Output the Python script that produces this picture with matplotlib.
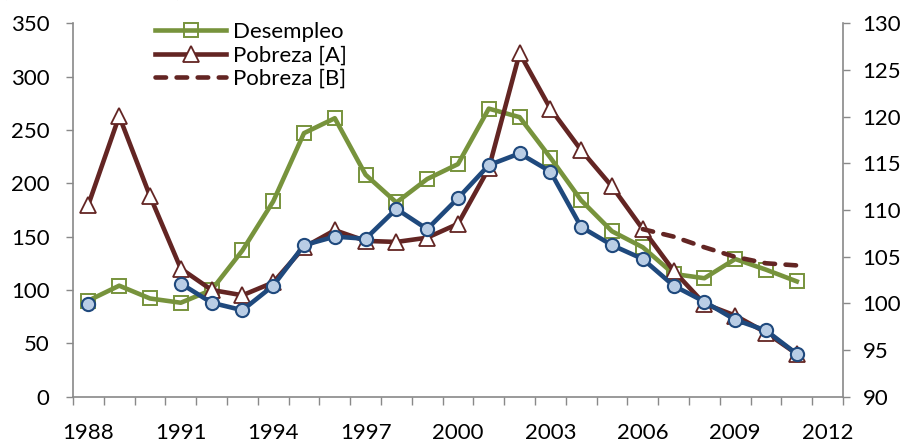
import numpy as np
import matplotlib
matplotlib.use('Agg')
import matplotlib.pyplot as plt
from matplotlib.ticker import FixedLocator, MultipleLocator

plt.rcParams['font.family'] = ['Lato', 'DejaVu Sans']

years = list(range(1988, 2012))
desempleo = [90, 104, 92, 88, 100, 137, 183, 247, 261, 208, 182, 204, 218,
             270, 262, 224, 184, 155, 140, 115, 111, 129, 119, 108]
pobreza_a = [180, 263, 188, 120, 100, 95, 107, 140, 156, 146, 145, 149, 162,
             214, 322, 270, 231, 197, 157, 118, 87, 76, 60, 40]
pobreza_b_years = [2006, 2007, 2008, 2009, 2010, 2011]
pobreza_b = [157, 150, 140, 131, 125, 123]
indice = [87, np.nan, np.nan, 106, 88, 81, 104, 142, 150, 148, 176, 157, 186,
          217, 228, 211, 159, 142, 129, 104, 89, 72, 62, 40]
xtick_labels = [1988, 1991, 1994, 1997, 2000, 2003, 2006, 2009, 2012]
right_ticks = [90, 95, 100, 105, 110, 115, 120, 125, 130]

GREEN = '#77933c'
RED = '#632523'
BLUE = '#1f497d'
BLUE_FACE = '#b9cde5'
GRAY = '#898989'

W, H = 910, 443
fig = plt.figure(figsize=(W / 100, H / 100), dpi=100)
x0, x1, y0, y1 = 73, 843, 23.3, 396.6
ax = fig.add_axes([x0 / W, 1 - y1 / H, (x1 - x0) / W, (y1 - y0) / H])

LW = 3.3
ax.plot(years, desempleo, color=GREEN, lw=LW, marker='s', ms=9.5,
        mfc='none', mec=GREEN, mew=1.4, label='Desempleo', zorder=3)
ax.plot(years, pobreza_a, color=RED, lw=LW, marker='^', ms=11,
        mfc='white', mec=RED, mew=1.3, label='Pobreza [A]', zorder=4)
ax.plot(pobreza_b_years, pobreza_b, color=RED, lw=LW, ls=(0, (2.3, 2.3)),
        dash_capstyle='round', label='Pobreza [B]', zorder=4)
ax.plot(years, indice, color=BLUE, lw=LW, marker='o', ms=9.5,
        mfc=BLUE_FACE, mec=BLUE, mew=1.5, zorder=5)

ax.set_xlim(1987.5, 2012.5)
ax.set_ylim(0, 350)
ax.yaxis.set_major_locator(MultipleLocator(50))
ax.xaxis.set_major_locator(FixedLocator(xtick_labels))
ax.xaxis.set_minor_locator(FixedLocator(np.arange(1987.5, 2013, 1)))
ax.tick_params(axis='x', which='major', length=0, pad=19, labelsize=16)
ax.tick_params(axis='x', which='minor', length=5.5, width=1, color=GRAY,
               direction='out')
ax.tick_params(axis='y', which='major', length=5, width=1, color=GRAY,
               pad=12, labelsize=16)

ax2 = ax.twinx()
ax2.set_ylim(90, 130)
ax2.yaxis.set_major_locator(FixedLocator(right_ticks))
ax2.tick_params(axis='y', length=5, width=1, color=GRAY, pad=9,
                labelsize=16)

for a in (ax, ax2):
    a.spines['top'].set_visible(False)
    for s in ('left', 'right', 'bottom'):
        a.spines[s].set_color(GRAY)
        a.spines[s].set_linewidth(1.2)
ax.spines['right'].set_visible(False)
ax2.spines['left'].set_visible(False)
ax2.spines['bottom'].set_visible(False)

ax.legend(loc='upper left', bbox_to_anchor=((155 - x0) / (x1 - x0), (y1 - 22) / (y1 - y0)),
          frameon=False, borderaxespad=0, borderpad=0, handlelength=3.2,
          handletextpad=0.3, labelspacing=0.15, fontsize=16)

fig.text(2 / W, 1.007, '(Índice 1990=100)', fontsize=16, ha='left',
         va='baseline')

fig.savefig('out.png', dpi=100)
